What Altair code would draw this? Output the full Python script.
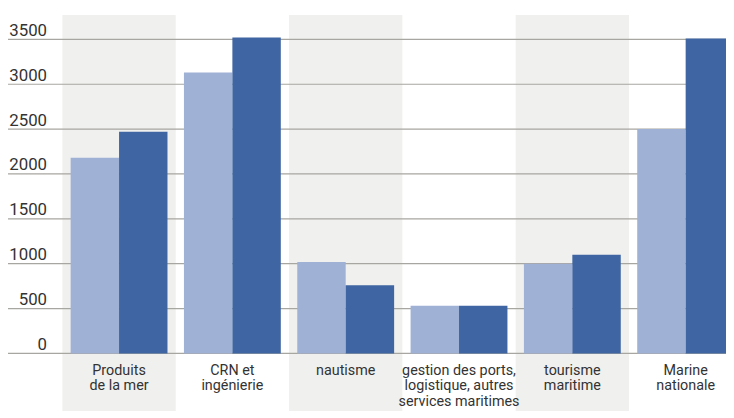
import altair as alt
import pandas as pd

categories = ["Produits\nde la mer", "CRN et\ningénierie", "nautisme",
              "gestion des ports,\nlogistique, autres\nservices maritimes",
              "tourisme\nmaritime", "Marine\nnationale"]
series_names = ["série 1", "série 2"]
values_light = [2180, 3130, 1020, 530, 1000, 2500]
values_dark = [2470, 3520, 760, 530, 1100, 3510]
shaded = [True, False, True, False, True, False]
y_ticks = [0, 500, 1000, 1500, 2000, 2500, 3000, 3500]

rows = []
for c, a, b in zip(categories, values_light, values_dark):
    rows.append({"cat": c, "serie": series_names[0], "v": a})
    rows.append({"cat": c, "serie": series_names[1], "v": b})
bars_df = pd.DataFrame(rows)
bands_df = pd.DataFrame({"cat": [c for c, s in zip(categories, shaded) if s]})
grid_df = pd.DataFrame({"v": y_ticks})

FONT = "Roboto, sans-serif"
W, H = 687.5, 347
LEFT = 55

xscale = alt.Scale(domain=categories, paddingInner=0, paddingOuter=0)
yscale = alt.Scale(domain=[0, 3825], nice=False, zero=False)

x_axis = alt.Axis(title=None, domain=False, ticks=False, labelAngle=0,
                  labelExpr="split(datum.label, '\\n')", labelFont=FONT,
                  labelFontSize=14.5, labelLineHeight=16, labelColor="#333333",
                  labelPadding=10, labelBaseline="top", zindex=1, labelLimit=200)
y_axis = alt.Axis(title=None, domain=False, ticks=False, grid=False, values=y_ticks,
                  format="d", offset=16, labelPadding=0, labelAlign="right",
                  labelBaseline="bottom", labelFont=FONT, labelFontSize=17,
                  labelColor="#333333", zindex=1)

bands = alt.Chart(bands_df).mark_rect(color="#f0f0ee").encode(
    x=alt.X("cat:N", scale=xscale, axis=x_axis, sort=categories),
    y=alt.datum(3772, scale=yscale, axis=y_axis),
    y2=alt.datum(-700),
)

grid = alt.Chart(grid_df).mark_rule(color="#a8a6a0", strokeWidth=1.2).encode(
    x=alt.value(-LEFT), x2=alt.value(W),
    y=alt.Y("v:Q", scale=yscale),
)

bars = alt.Chart(bars_df).mark_bar().encode(
    x=alt.X("cat:N", scale=xscale, sort=categories),
    xOffset=alt.XOffset("serie:N", scale=alt.Scale(domain=series_names, paddingInner=0, paddingOuter=0.17)),
    y=alt.Y("v:Q", scale=yscale),
    color=alt.Color("serie:N", scale=alt.Scale(domain=series_names, range=["#a0b1d6", "#3f66a2"]), legend=None),
)

chart = alt.layer(bands, grid, bars).properties(
    width=W, height=H,
    autosize=alt.AutoSizeParams(type="none"),
    padding={"left": LEFT, "top": 0, "right": -16.5, "bottom": 56},
).configure_view(stroke=None)

chart.save("out.html", embed_options={"renderer": "svg", "actions": False})
